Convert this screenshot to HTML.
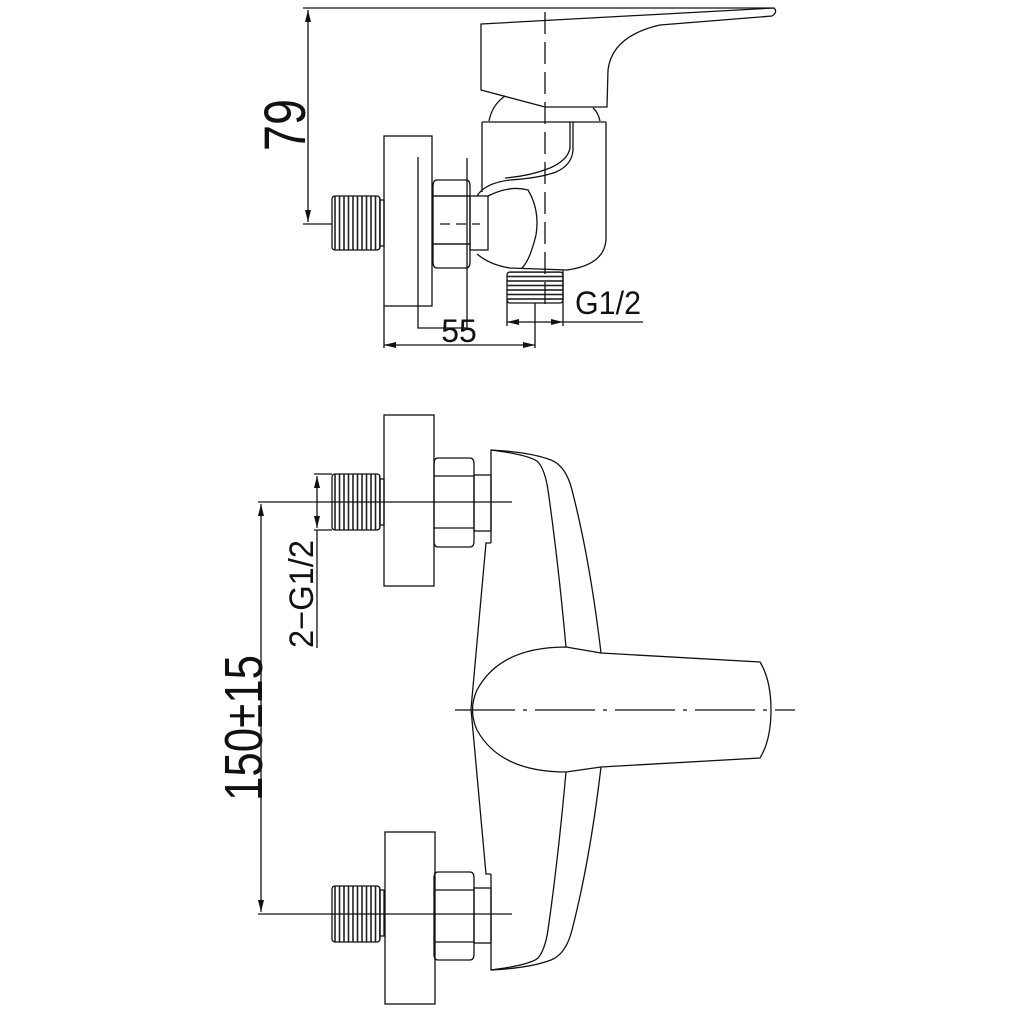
<!DOCTYPE html>
<html><head><meta charset="utf-8"><style>
html,body{margin:0;padding:0;background:#fff}
svg{display:block}
text{font-family:"Liberation Sans Narrow","Liberation Sans",sans-serif;fill:#111}
</style></head><body>
<svg width="1020" height="1020" viewBox="0 0 1020 1020" xmlns="http://www.w3.org/2000/svg">
<defs>
<marker id="a" viewBox="0 0 12 6" refX="12" refY="3" markerWidth="12" markerHeight="6" orient="auto-start-reverse" markerUnits="userSpaceOnUse"><path d="M0,0L12,3L0,6z" fill="#111"/></marker>
<pattern id="vt" width="4.5" height="10" patternUnits="userSpaceOnUse"><rect width="4.5" height="10" fill="#fff"/><line x1="2" y1="0" x2="2" y2="10" stroke="#222" stroke-width="1.6"/></pattern>
<pattern id="ht" width="10" height="4.5" patternUnits="userSpaceOnUse"><rect width="10" height="4.5" fill="#fff"/><line x1="0" y1="2" x2="10" y2="2" stroke="#222" stroke-width="1.6"/></pattern>
</defs>
<g fill="none" stroke="#111" stroke-width="1.3">
<!-- ===== TOP VIEW ===== -->
<line x1="303" y1="8" x2="772" y2="8"/>
<line x1="308" y1="10" x2="308" y2="222" marker-start="url(#a)" marker-end="url(#a)"/>
<line x1="303" y1="224" x2="380" y2="224"/>
<rect x="332" y="196" width="48" height="54" fill="url(#vt)" rx="3"/>
<rect x="380" y="200" width="4" height="46"/>
<rect x="384" y="136" width="48" height="170"/>
<polyline points="418,157 418,328 467,328 467,158"/>
<line x1="384" y1="306" x2="384" y2="348"/>
<line x1="535" y1="300" x2="535" y2="348"/>
<line x1="384" y1="345" x2="535" y2="345" marker-start="url(#a)" marker-end="url(#a)"/>
<path d="M437,180 H466 Q470,180 470,186 V196 H433 V186 Q433,180 437,180 Z"/>
<path d="M433,196 H470 V244 H433 Z"/>
<path d="M433,244 H470 V262 Q470,268 466,268 H437 Q433,268 433,262 Z"/>
<line x1="440" y1="224" x2="480" y2="224" stroke-dasharray="10,6"/>
<rect x="470" y="196" width="18" height="54"/>
<!-- handle -->
<path d="M481,24 L774,8 Q778,12 772,16 L660,25 Q612,36 608,70 L607,107 L545,107 L481,90 Z"/>
<path d="M489,121 Q492,105 505,96 M600,121 Q598,112 593,108"/>
<rect x="482" y="122" width="124" height="0"/>
<line x1="482" y1="122" x2="606" y2="122"/>
<line x1="482" y1="122" x2="482" y2="192"/>
<path d="M606,122 L606,240 Q604,265 567,270 L510,268 Q490,265 477,254"/>
<path d="M573,122 L573,150 Q572,165 556,172 Q540,178 510,180 Q485,183 477,196"/>
<path d="M570,122 L570,148 Q568,160 550,168 Q530,176 505,178"/>
<path d="M488,196 Q510,185 528,190 Q540,210 536,235 Q530,260 522,268"/>
<rect x="507" y="272" width="56" height="31" fill="url(#ht)" rx="3"/>
<line x1="545" y1="12" x2="545" y2="312" stroke-dasharray="22,8"/>
<line x1="563" y1="270" x2="563" y2="326"/>
<line x1="507" y1="300" x2="507" y2="326"/>
<line x1="507" y1="322" x2="563" y2="322" marker-start="url(#a)" marker-end="url(#a)"/>
<line x1="563" y1="322" x2="643" y2="322"/>
<!-- ===== BOTTOM VIEW ===== -->
<rect x="384" y="415" width="50" height="171"/>
<rect x="385" y="832" width="50" height="172"/>
<rect x="332" y="474" width="48" height="56" fill="url(#vt)" rx="3"/>
<rect x="380" y="479" width="4" height="46"/>
<rect x="332" y="886" width="48" height="56" fill="url(#vt)" rx="3"/>
<rect x="380" y="890" width="4" height="46"/>
<!-- nuts -->
<path d="M438,458 H470 Q474,458 474,464 V476 H434 V464 Q434,458 438,458 Z M434,476 H474 V528 H434 Z M434,528 H474 V541 Q474,547 470,547 H438 Q434,547 434,541 Z"/>
<path d="M438,872 H470 Q474,872 474,878 V890 H434 V878 Q434,872 438,872 Z M434,890 H474 V942 H434 Z M434,942 H474 V954 Q474,960 470,960 H438 Q434,960 434,954 Z"/>
<rect x="474" y="475" width="17" height="56"/>
<rect x="474" y="888" width="17" height="55"/>
<!-- dims -->
<line x1="258" y1="502" x2="512" y2="502"/>
<line x1="258" y1="914" x2="512" y2="914"/>
<line x1="261" y1="504" x2="261" y2="912" marker-start="url(#a)" marker-end="url(#a)"/>
<line x1="314" y1="474" x2="332" y2="474"/>
<line x1="314" y1="530" x2="332" y2="530"/>
<line x1="317" y1="476" x2="317" y2="528" marker-start="url(#a)" marker-end="url(#a)"/>
<line x1="317" y1="530" x2="317" y2="648"/>
<!-- body -->
<path d="M491,543 L491,450 Q530,452 551,460 Q566,466 572,490 Q590,560 601,653"/>
<path d="M491,450 Q530,455 538,462 Q545,470 548,490 Q558,560 566,647"/>
<path d="M491,543 L486,543 L471,709 L486,874 L491,874"/>
<path d="M491,874 L491,970 Q530,968 551,960 Q566,954 572,930 Q590,860 601,767"/>
<path d="M491,970 Q530,965 538,958 Q545,950 548,930 Q558,860 566,772"/>
<!-- handle -->
<path d="M566,647 L601,653 L760,662 Q771,680 771,710 Q771,740 760,758 L601,767 L566,772 Q500,772 477,730 Q468,710 477,690 Q500,647 566,647 Z"/>
<line x1="455" y1="710" x2="795" y2="710" stroke-dasharray="60,8,4,8"/>
</g>
<text transform="translate(305,125) rotate(-90)" font-size="58" text-anchor="middle" textLength="52" lengthAdjust="spacingAndGlyphs">79</text>
<text x="459" y="342" font-size="32" text-anchor="middle">55</text>
<text x="575" y="314" font-size="32" textLength="66" lengthAdjust="spacingAndGlyphs">G1/2</text>
<text transform="translate(262,728) rotate(-90)" font-size="54" text-anchor="middle" textLength="146" lengthAdjust="spacingAndGlyphs">150±15</text>
<text transform="translate(313,594) rotate(-90)" font-size="34" text-anchor="middle" textLength="108" lengthAdjust="spacingAndGlyphs">2−G1/2</text>
</svg>
</body></html>
